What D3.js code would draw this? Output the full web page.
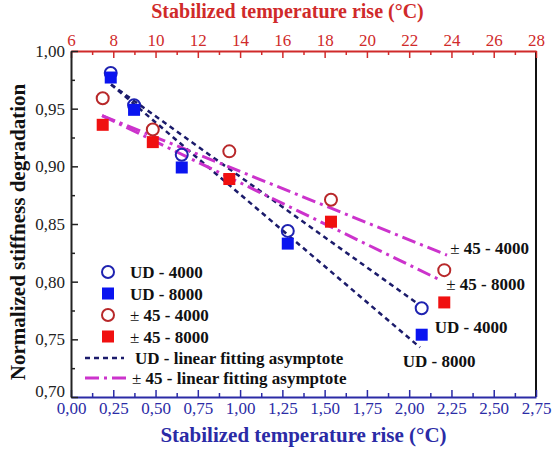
<!DOCTYPE html>
<html><head><meta charset="utf-8">
<script src="https://cdn.jsdelivr.net/npm/d3@7"></script>
</head><body style="margin:0">
<svg id="c" width="552" height="450"></svg>
<script>
// ---- data ----
const udX = [0.235, 0.373, 0.655, 1.282, 2.074];           // bottom axis (°C)
const ud4000 = [0.981, 0.953, 0.910, 0.844, 0.777];
const ud8000 = [0.977, 0.949, 0.899, 0.833, 0.754];
const pmX = [7.5, 9.87, 13.49, 18.3, 23.66];               // top axis (°C)
const pm4000 = [0.959, 0.932, 0.913, 0.871, 0.810];
const pm8000 = [0.936, 0.921, 0.889, 0.852, 0.782];
// asymptote lines [x0,y0,x1,y1]
const udFit4000 = [0.237, 0.971, 2.04, 0.782];
const udFit8000 = [0.237, 0.971, 2.064, 0.743];
const pmFit4000 = [7.47, 0.944, 23.79, 0.823];
const pmFit8000 = [7.47, 0.944, 23.51, 0.801];
const bottomTicks = [0,0.25,0.5,0.75,1,1.25,1.5,1.75,2,2.25,2.5,2.75];
const topTicks = [6,8,10,12,14,16,18,20,22,24,26,28];
const yTicks = [0.70,0.75,0.80,0.85,0.90,0.95,1.00];
const legendLabels = ["UD - 4000","UD - 8000","± 45 - 4000","± 45 - 8000","UD - linear fitting asymptote","± 45 - linear fitting asymptote"];

// ---- layout ----
const L=71, R=536, T=51, B=397;
const FF="Liberation Serif";
const cRed="#d02a2a", cBlueAx="#2b2ba6", cNavy="#1b1b6b", cMag="#cc33cc";
const cBlueC="#1e22b0", cBlueS="#0a14f0", cRedC="#b8282a", cRedS="#f01010";

const svg=d3.select("#c").attr("font-family",FF);
const xB=d3.scaleLinear().domain([0,2.75]).range([L,R]);
const xT=d3.scaleLinear().domain([6,28]).range([L,R]);
const y=d3.scaleLinear().domain([0.70,1.00]).range([B,T]);
const fmt2=d=>d3.format(".2f")(d).replace(".",",");

function styleAxis(g,color,fs){
  g.attr("font-family",FF).attr("font-size",fs);
  g.select(".domain").attr("stroke",color).attr("stroke-width",2);
  g.selectAll(".tick line").attr("stroke",color).attr("stroke-width",1.5);
  g.selectAll("text").attr("fill",color).attr("font-family",FF).attr("font-size",fs);
}
// minor ticks
const minorB=d3.range(0.125,2.75,0.25);
const minorT=d3.range(7,28,2);
const minorY=d3.range(0.725,1.0,0.05);
svg.append("g").attr("transform",`translate(0,${B})`).call(d3.axisBottom(xB).tickValues(minorB).tickFormat("").tickSize(-4)).call(g=>{g.select(".domain").remove();g.selectAll("text").remove();g.selectAll("line").attr("stroke",cBlueAx).attr("stroke-width",1.5);});
svg.append("g").attr("transform",`translate(0,${T})`).call(d3.axisTop(xT).tickValues(minorT).tickFormat("").tickSize(-4)).call(g=>{g.select(".domain").remove();g.selectAll("text").remove();g.selectAll("line").attr("stroke",cRed).attr("stroke-width",1.5);});
svg.append("g").attr("transform",`translate(${L},0)`).call(d3.axisLeft(y).tickValues(minorY).tickFormat("").tickSize(-4)).call(g=>{g.select(".domain").remove();g.selectAll("text").remove();g.selectAll("line").attr("stroke","#222").attr("stroke-width",1.5);});

// right border
svg.append("line").attr("x1",R).attr("x2",R).attr("y1",T).attr("y2",B).attr("stroke","#111").attr("stroke-width",2);

// major axes
svg.append("g").attr("transform",`translate(0,${B})`)
  .call(d3.axisBottom(xB).tickValues(bottomTicks).tickFormat(fmt2).tickSizeInner(-7).tickSizeOuter(0).tickPadding(5))
  .call(g=>styleAxis(g,cBlueAx,17));
svg.append("g").attr("transform",`translate(0,${T})`)
  .call(d3.axisTop(xT).tickValues(topTicks).tickFormat(d3.format("d")).tickSizeInner(-7).tickSizeOuter(0).tickPadding(5))
  .call(g=>styleAxis(g,cRed,17));
svg.append("g").attr("transform",`translate(${L},0)`)
  .call(d3.axisLeft(y).tickValues(yTicks).tickFormat(fmt2).tickSizeInner(-7).tickSizeOuter(0).tickPadding(6))
  .call(g=>styleAxis(g,"#222",17));
// avoid overlap at bottom-left corner
svg.selectAll("g text").filter(function(){return this.textContent==="0,70";}).attr("dy","-0.05em");

function txt(sel,size,weight,fill){
  return sel.attr("font-family",FF).attr("font-size",size).attr("font-weight",weight).attr("fill",fill);
}
// titles
txt(svg.append("text").attr("x",(L+R)/2-16).attr("y",18).attr("text-anchor","middle"),20,"bold",cRed)
  .text("Stabilized temperature rise (°C)");
txt(svg.append("text").attr("x",(L+R)/2).attr("y",442).attr("text-anchor","middle"),21,"bold",cBlueAx)
  .text("Stabilized temperature rise (°C)");
txt(svg.append("text").attr("transform","translate(25,232) rotate(-90)").attr("text-anchor","middle"),21,"bold","#111")
  .text("Normalized stiffness degradation");

// fit lines
const plot=svg.append("g");
function fitLine(a,xs,color,dash,w){
  plot.append("line").attr("x1",xs(a[0])).attr("y1",y(a[1])).attr("x2",xs(a[2])).attr("y2",y(a[3]))
    .attr("stroke",color).attr("stroke-width",w).attr("stroke-dasharray",dash);
}
fitLine(udFit4000,xB,cNavy,"5,4",2.5);
fitLine(udFit8000,xB,cNavy,"5,4",2.5);
fitLine(pmFit4000,xT,cMag,"14,5,3,5",3);
fitLine(pmFit8000,xT,cMag,"14,5,3,5",3);

// markers
function circles(xs,xv,yv,color){
  plot.selectAll(null).data(yv).enter().append("circle")
    .attr("cx",(d,i)=>xs(xv[i])).attr("cy",d=>y(d)).attr("r",6)
    .attr("fill","none").attr("stroke",color).attr("stroke-width",2);
}
function squares(xs,xv,yv,color){
  const s=12;
  plot.selectAll(null).data(yv).enter().append("rect")
    .attr("x",(d,i)=>xs(xv[i])-s/2).attr("y",d=>y(d)-s/2).attr("width",s).attr("height",s)
    .attr("fill",color);
}
circles(xT,pmX,pm4000,cRedC);
squares(xT,pmX,pm8000,cRedS);
circles(xB,udX,ud4000,cBlueC);
squares(xB,udX,ud8000,cBlueS);

// labels with lighter ±
function label(parent,x,yy,s){
  const t=txt(parent.append("text").attr("x",x).attr("y",yy),17,"bold","#111");
  if(s.startsWith("±")){
    t.append("tspan").attr("font-weight","normal").text("±");
    t.append("tspan").text(s.slice(1));
  } else t.text(s);
  return t;
}
const n=4;
label(svg,xT(pmX[n])+6, y(pm4000[n])-16, legendLabels[2]);
label(svg,xT(pmX[n])+2, y(pm8000[n])-12, legendLabels[3]);
label(svg,xB(udX[n])+13, y(ud4000[n])+25, legendLabels[0]);
label(svg,xB(udX[n])-19, y(ud8000[n])+32, legendLabels[1]);

// legend
const lg=svg.append("g");
const rowY=[272,293.5,315,336.5];
const mk=[["c",cBlueC],["s",cBlueS],["c",cRedC],["s",cRedS]];
rowY.forEach((ry,i)=>{
  if(mk[i][0]==="c") lg.append("circle").attr("cx",108).attr("cy",ry).attr("r",6).attr("fill","none").attr("stroke",mk[i][1]).attr("stroke-width",2);
  else lg.append("rect").attr("x",102).attr("y",ry-6).attr("width",12).attr("height",12).attr("fill",mk[i][1]);
  label(lg,130,ry+6,legendLabels[i]);
});
lg.append("line").attr("x1",85).attr("x2",124).attr("y1",358).attr("y2",358).attr("stroke",cNavy).attr("stroke-width",2.5).attr("stroke-dasharray","5,4");
lg.append("line").attr("x1",85).attr("x2",128).attr("y1",378).attr("y2",378).attr("stroke",cMag).attr("stroke-width",3).attr("stroke-dasharray","14,5,3,5");
label(lg,135,364,legendLabels[4]);
label(lg,132,384,legendLabels[5]);
</script>
</body></html>
